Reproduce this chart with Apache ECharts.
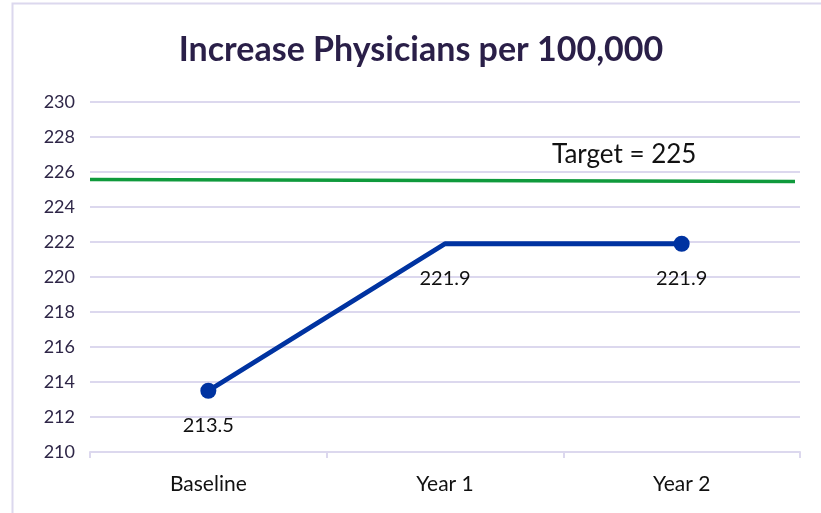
<!DOCTYPE html>
<html>
<head>
<meta charset="utf-8">
<script src="https://cdn.jsdelivr.net/npm/echarts@6/dist/echarts.min.js"></script>
<style>
  html, body { margin: 0; padding: 0; background: #ffffff; }
  #chart { width: 821px; height: 513px; }
</style>
</head>
<body>
<div id="chart"></div>
<script>
// Physicians per 100,000 population
const categories = ['Baseline', 'Year 1', 'Year 2'];
const physicians = [213.5, 221.9, 221.9];
const showMarker = [true, false, true];

// Target reference line, drawn edge to edge across the plot
const targetPositions = [0, 0.993];
const targetValues = [225.57, 225.46];
const targetLabel = 'Target = 225';

const yMin = 210, yMax = 230, yStep = 2;

const FONT = 'Lato, "Open Sans", sans-serif';
const GRID_COLOR = '#dcd8ee';

const chart = echarts.init(document.getElementById('chart'));

chart.setOption({
  animation: false,
  backgroundColor: '#ffffff',
  grid: { left: 90, right: 21, top: 102, bottom: 61 },
  xAxis: [
    {
      type: 'category',
      data: categories,
      boundaryGap: true,
      axisLine: { show: true, lineStyle: { color: GRID_COLOR, width: 2 } },
      axisTick: { show: true, length: 6, interval: 0, lineStyle: { color: GRID_COLOR, width: 2 } },
      axisLabel: { fontFamily: FONT, fontSize: 21, color: '#111111', margin: 22 }
    },
    {
      type: 'value',
      min: 0, max: 1,
      show: false
    }
  ],
  yAxis: {
    type: 'value',
    min: yMin, max: yMax, interval: yStep,
    axisLine: { show: false },
    axisTick: { show: false },
    splitLine: { lineStyle: { color: GRID_COLOR, width: 2 } },
    axisLabel: { fontFamily: FONT, fontSize: 18, color: '#2e2647', margin: 15 }
  },
  series: [
    {
      type: 'line',
      xAxisIndex: 1,
      data: targetPositions.map((x, i) => [x, targetValues[i]]),
      symbol: 'none',
      lineStyle: { color: '#0f9a3c', width: 3.5 },
      silent: true,
      z: 2
    },
    {
      type: 'line',
      data: physicians.map((v, i) => ({
        value: v,
        symbolSize: showMarker[i] ? 16 : 0.1
      })),
      symbol: 'circle',
      lineStyle: { color: '#0033a1', width: 5 },
      itemStyle: { color: '#0033a1' },
      label: {
        show: true,
        position: 'inside',
        offset: [0, 35],
        fontFamily: FONT,
        fontSize: 20,
        color: '#111111',
        formatter: p => p.value.toFixed(1)
      },
      z: 3
    }
  ],
  graphic: [
    {
      type: 'rect',
      shape: { x: 12.5, y: 3.5, width: 900, height: 600 },
      style: { fill: 'none', stroke: GRID_COLOR, lineWidth: 2 },
      silent: true
    },
    {
      type: 'text',
      x: 421,
      y: 50,
      style: {
        text: 'Increase Physicians per 100,000',
        fontFamily: FONT, fontSize: 34, fontWeight: 'bold', fill: '#2a1f48',
        align: 'center', verticalAlign: 'middle'
      }
    },
    {
      type: 'text',
      x: 552,
      y: 155,
      style: {
        text: targetLabel, fontFamily: FONT, fontSize: 26, fill: '#111111',
        align: 'left', verticalAlign: 'middle'
      }
    }
  ]
});
</script>
</body>
</html>
